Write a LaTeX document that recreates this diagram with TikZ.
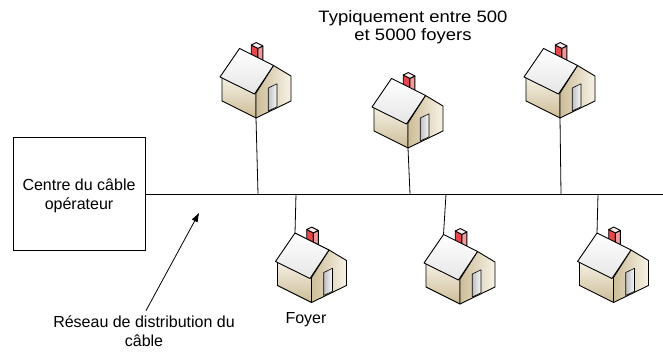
\documentclass[tikz,border=0pt]{standalone}
\usepackage{fontspec}
\setmainfont{Liberation Sans}
\newfontfamily\widesans[FakeStretch=1.12]{Liberation Sans}
\usetikzlibrary{positioning}
\usetikzlibrary{arrows.meta}

\definecolor{wallhi}{HTML}{F6F2E6}
\definecolor{walllo}{HTML}{CDBD98}
\definecolor{chimred}{HTML}{E8464E}
\definecolor{chimpink}{HTML}{F29A9A}
\definecolor{chimtop}{HTML}{FCECEC}

\begin{document}
\begin{tikzpicture}[%
    x=1pt, y=-1pt,
    font=\fontsize{16}{18.4}\selectfont,
centrebox/.style={rectangle, draw=black, line width=0.8pt, minimum width=132pt, minimum height=113pt},
caption/.style={align=center, inner sep=1pt},
wire/.style={line width=0.8pt},
face/.style={draw=black, line width=0.9pt, line join=round},
pics/house/.style={code={
    \coordinate (-foot) at (0,0);
    \coordinate (-peak) at (-16.5,-69.5);
    % chimney, its foot hidden by the roof
    \draw[face, fill=chimred] (-4.8,-57) -- (1.9,-53.65) -- (1.9,-69.65) -- (-4.8,-73) -- cycle;
    \draw[face, fill=chimpink] (1.9,-53.65) -- (6.9,-56.05) -- (6.9,-72.05) -- (1.9,-69.65) -- cycle;
    \draw[face, fill=chimtop] (-4.8,-73) -- (1.9,-69.65) -- (6.9,-72.05) -- (0.2,-75.4) -- cycle;
    % side wall
    \draw[face, top color=wallhi, bottom color=walllo] (-34,-17) -- (0,0) -- (0,-25) -- (-34,-42) -- cycle;
    % front wall and gable
    \draw[face, left color=walllo, right color=wallhi] (0,0) -- (35,-17) -- (35,-42) -- (17.5,-52.5) -- (0,-25) -- cycle;
    % roof
    \draw[face, top color=white, bottom color=gray!20] (-16.5,-69.5) -- (17.5,-52.5) -- (-1.5,-24) -- (-36,-41) -- cycle;
    % door
    \draw[face, line width=0.6pt, left color=gray!50, right color=gray!5] (12.25,-7) -- (21,-11.2) -- (21,-34.2) -- (12.25,-30) -- cycle;
}},
]
\useasboundingbox (0,0) rectangle (663,355);

% head end
\node[centrebox]  (centre)  at (79,194) {};
\node[caption]    (centretext) at (79,196) {Centre du câble\\opérateur};

% bus
\coordinate (busend) at (663,194);
\draw[wire] (centre.east) -- (busend);

\coordinate (tap1) at (258,194);
\coordinate (tap2) at (410,194);
\coordinate (tap3) at (561,194);
\coordinate (tap4) at (296,194);
\coordinate (tap5) at (446,194);
\coordinate (tap6) at (598,194);

% houses above the bus
\pic (h1) at (256,118) {house};
\pic (h2) at (408,148) {house};
\pic (h3) at (560,118) {house};

% houses below the bus
\pic (h4) at (311.5,302.5) {house};
\pic (h5) at (460,304) {house};
\pic (h6) at (613.5,302.5) {house};

% drops
\draw[wire] (h1-foot) -- (tap1);
\draw[wire] (h2-foot) -- (tap2);
\draw[wire] (h3-foot) -- (tap3);
\draw[wire] (h4-peak) -- (tap4);
\draw[wire] (h5-peak) -- (tap5);
\draw[wire] (h6-peak) -- (tap6);

% labels
\node[caption, font=\widesans\fontsize{16.5}{18}\selectfont]  (count)  at (413,27.5) {Typiquement entre 500\\et 5000 foyers};
\node[caption]  (foyer)  at (306,320) {Foyer};
\node[caption]  (reseau) at (144,331) {Réseau de distribution du\\câble};

\coordinate (netpt) at (199,213);
\draw[wire, -{Triangle[length=9pt,width=6pt]}] ([xshift=2pt,yshift=4pt]reseau.north) -- (netpt);

\end{tikzpicture}
\end{document}
